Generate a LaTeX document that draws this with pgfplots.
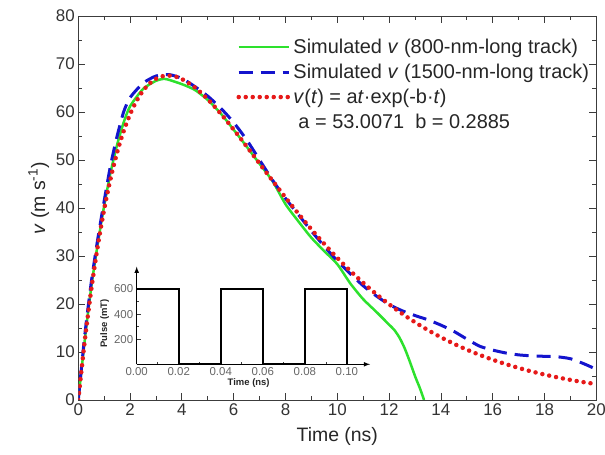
\documentclass[border=0pt]{standalone}
\usepackage{pgfplots}
\pgfplotsset{compat=1.18}
\usepackage{fontspec}
\setmainfont{Liberation Sans}
\setsansfont{Liberation Sans}

\definecolor{cgreen}{RGB}{45,225,45}
\definecolor{cblue}{RGB}{20,20,205}
\definecolor{cred}{RGB}{230,25,25}
\definecolor{axgray}{RGB}{60,60,60}

\begin{document}
\begin{tikzpicture}
\begin{axis}[name=main, scale only axis, width=518bp, height=384bp,
  xmin=0, xmax=20, ymin=0, ymax=80,
  xtick={0,2,...,20}, ytick={0,10,...,80},
  minor x tick num=1, minor y tick num=1,
  tick align=inside, major tick length=7bp, minor tick length=4bp,
  every tick/.style={line width=0.8bp, axgray},
  axis line style={line width=0.8bp, axgray},
  ticklabel style={font=\fontsize{17}{17}\selectfont, text=black!80},
  /pgf/number format/assume math mode=true,
  xlabel={Time (ns)},
  ylabel={\textit{v} (m s\textsuperscript{-1})},
  label style={font=\fontsize{19.5}{21}\selectfont, text=black!85},
  ylabel style={at={(ticklabel cs:0.525)}},
  xlabel style={yshift=-5bp},
  legend style={at={(rel axis cs:0.305,0.94)}, anchor=north west, draw=none, fill=none,
    font=\fontsize{20}{22}\selectfont, text=black!85, row sep=9bp, inner sep=0pt,
    nodes={inner xsep=2.5bp, inner ysep=0pt}},
  legend cell align=left,
  legend image code/.code={\draw[#1] plot coordinates {(0bp,0bp) (25bp,0bp) (50bp,0bp)};},
]
% Simulated v, 800-nm-long track
\addplot[cgreen, line width=2.5bp, smooth, tension=0.4] coordinates {
(0,0) (0.25,12.5) (0.5,23.5) (0.75,32.5) (1,40.5) (1.25,47.5) (1.5,53.2) (1.75,57.8)
(2,61.2) (2.5,64.8) (3,66.5) (3.3,66.9) (3.5,66.7) (4,65.8) (4.5,64.6) (5,62.5)
(5.5,59.7) (6,56.3) (6.5,52.8) (7,49.2) (7.5,45.6) (8,40.8) (8.5,37.2) (9,33.8)
(9.5,31.0) (10,28.3) (10.5,24.3) (11,21.0) (11.5,18.4) (12,15.7) (12.2,14.6)
(12.4,13.0) (12.6,10.8) (12.8,8.0) (13.0,5.0) (13.2,2.3) (13.35,0)
};
\addlegendentry{Simulated \textit{v} (800-nm-long track)}
% Simulated v, 1500-nm-long track
\addplot[cblue, line width=3bp, dash pattern=on 14bp off 8bp, smooth, tension=0.4] coordinates {
(0,0) (0.25,13.5) (0.5,24.5) (0.75,33.5) (1,41.5) (1.25,49) (1.5,55) (1.75,60)
(2,63) (2.5,66) (3,67.5) (3.5,67.8) (4,67) (4.5,65.3) (5,63.3) (5.5,60.8)
(6,57.8) (6.5,54.2) (7,50) (7.5,45.8) (8,42) (8.5,38.6) (9,35.2) (9.5,32.0)
(10,29.0) (10.5,26.3) (11,23.8) (11.5,21.7) (12,19.9) (12.5,18.6) (13,17.6)
(13.5,16.7) (14,15.6) (14.5,14.3) (15,12.7) (15.5,11.2) (16,10.4) (16.5,9.8)
(17,9.4) (17.5,9.2) (18,9.1) (18.5,9.0) (19,8.6) (19.5,7.6) (20,6.4)
};
\addlegendentry{Simulated \textit{v} (1500-nm-long track)}
% fit v(t) = a t exp(-b t)
\addplot[cred, line width=4.5bp, dash pattern=on 0bp off 7bp, line cap=round, smooth] coordinates {
(0,0) (0.25,12.33) (0.5,22.94) (0.75,32.02) (1,39.72) (1.25,46.20) (1.5,51.58)
(1.75,55.99) (2,59.53) (2.25,62.32) (2.5,64.42) (2.75,65.93) (3,66.92) (3.25,67.45)
(3.5,67.59) (3.75,67.38) (4,66.87) (4.5,65.12) (5,62.64) (5.5,59.65) (6,56.33)
(6.5,52.83) (7,49.24) (7.5,45.68) (8,42.18) (8.5,38.80) (9,35.56) (9.5,32.50)
(10,29.60) (10.5,26.91) (11,24.41) (11.5,22.09) (12,19.95) (12.5,17.99) (13,16.20)
(13.5,14.56) (14,13.07) (14.5,11.72) (15,10.49) (15.5,9.39) (16,8.39) (16.5,7.49)
(17,6.68) (17.5,5.95) (18,5.30) (18.5,4.71) (19,4.19) (19.5,3.72) (20,3.31)
};
\addlegendentry{\textit{v}(\textit{t}) = a\textit{t}·exp(-b·\textit{t})}
\addlegendimage{empty legend}
\addlegendentry{\hspace{5bp}a = 53.0071\ \ b = 0.2885}
\end{axis}

% inset
\begin{axis}[at={(58.4bp,35.7bp)}, anchor=south west, scale only axis,
  width=233.3bp, height=97.6bp,
  xmin=0, xmax=0.111, ymin=0, ymax=778,
  axis lines=left,
  axis line style={line width=1.1bp, black, -latex},
  xtick={0,0.02,...,0.10}, ytick={200,400,600},
  minor x tick num=1, minor y tick num=1,
  tick align=inside, major tick length=4bp, minor tick length=2.5bp,
  every tick/.style={line width=0.7bp, axgray},
  xticklabel style={/pgf/number format/fixed, /pgf/number format/fixed zerofill,
    /pgf/number format/precision=2},
  scaled x ticks=false,
  ticklabel style={font=\fontsize{11.5}{12}\selectfont, text=black!60},
  /pgf/number format/assume math mode=true,
  xlabel={\textbf{Time (ns)}}, ylabel={\textbf{Pulse (mT)}},
  label style={font=\fontsize{9.5}{10}\selectfont, text=black!85},
  xlabel style={at={(ticklabel cs:0.48)}, anchor=north, inner sep=0pt, yshift=1bp},
  ylabel style={at={(ticklabel cs:0.42)}, anchor=south, inner sep=1.5bp},
]
\addplot[black, line width=1.8bp] coordinates {
(0,600) (0.02,600) (0.02,0) (0.04,0) (0.04,600) (0.06,600) (0.06,0)
(0.08,0) (0.08,600) (0.10,600) (0.10,0)
};
\end{axis}
\pgfresetboundingbox
\path (-78.3bp,-55bp) rectangle (526.7bp,400bp);
\end{tikzpicture}
\end{document}
